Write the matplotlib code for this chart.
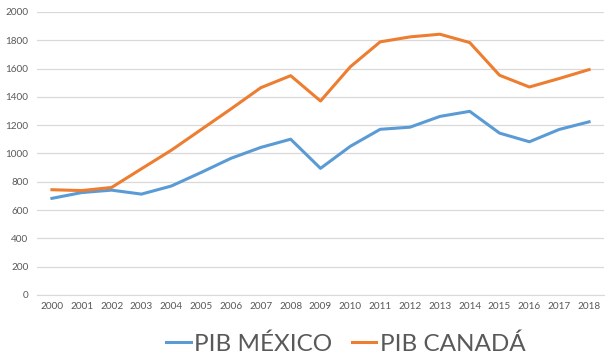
import matplotlib
matplotlib.use("Agg")
import matplotlib.pyplot as plt

years = [str(y) for y in range(2000, 2019)]
pib_mexico = [683, 724, 741, 713, 770, 866, 966, 1043, 1101, 895, 1051, 1171, 1186, 1262, 1298, 1144, 1083, 1170, 1224]
pib_canada = [744, 738, 760, 892, 1023, 1169, 1315, 1465, 1550, 1371, 1613, 1789, 1824, 1843, 1784, 1553, 1470, 1530, 1593]
y_ticks = list(range(0, 2001, 200))

plt.rcParams['font.family'] = ['Lato', 'DejaVu Sans']
fig = plt.figure(figsize=(6.12, 3.62), dpi=100)
ax = fig.add_axes([37/612, 1-295/362, (604-37)/612, (295-12)/362])

x = list(range(len(years)))
l1, = ax.plot(x, pib_mexico, color='#5B9BD5', lw=2.2, label='PIB MÉXICO', solid_joinstyle='round')
l2, = ax.plot(x, pib_canada, color='#ED7D31', lw=2.2, label='PIB CANADÁ', solid_joinstyle='round')

ax.set_xlim(-0.5, len(years)-0.5)
ax.set_ylim(0, 2000)
ax.set_yticks(y_ticks)
ax.set_xticks(x)
ax.set_xticklabels(years)
ax.grid(axis='y', color='#D9D9D9', lw=0.9)
ax.set_axisbelow(True)
for s in ['top', 'right', 'left']:
    ax.spines[s].set_visible(False)
ax.spines['bottom'].set_color('#D9D9D9')
ax.tick_params(axis='both', length=0, labelsize=7.2, colors='#595959')
ax.tick_params(axis='y', pad=6)
ax.tick_params(axis='x', pad=5)

fig.legend(handles=[l1, l2], loc='center', bbox_to_anchor=(0.565, 1-344/362), ncol=2,
           frameon=False, fontsize=17.5, labelcolor='#595959', handlelength=1.0,
           handletextpad=0.15, columnspacing=0.8)
fig.savefig('out.png', dpi=100)
